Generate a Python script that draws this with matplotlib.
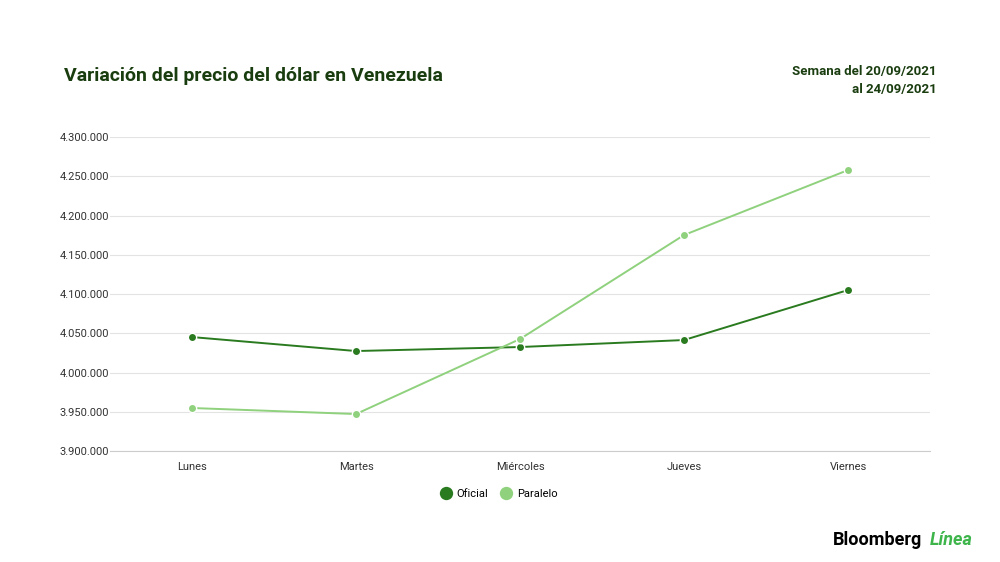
import matplotlib
matplotlib.use("Agg")
import matplotlib.pyplot as plt
from matplotlib.ticker import FuncFormatter

dias = ["Lunes", "Martes", "Miércoles", "Jueves", "Viernes"]
oficial = [4045200, 4027400, 4032500, 4041400, 4105100]
paralelo = [3954800, 3947100, 4042700, 4175200, 4258000]
yticks = [3900000, 3950000, 4000000, 4050000, 4100000, 4150000, 4200000, 4250000, 4300000]

plt.rcParams['font.family'] = ['Roboto', 'DejaVu Sans']
fig = plt.figure(figsize=(10, 5.62), dpi=100)
ax = fig.add_axes([0.11, 0.1975, 0.82, 0.5585])
x = range(len(dias))
c1, c2 = "#2a7a1f", "#8fd17d"
ax.plot(x, oficial, color=c1, lw=1.4, marker="o", ms=6, mec="white", mew=1, label="Oficial", zorder=3)
ax.plot(x, paralelo, color=c2, lw=1.4, marker="o", ms=6, mec="white", mew=1, label="Paralelo", zorder=3)
ax.set_xlim(-0.5, 4.5)
ax.set_ylim(3900000, 4300000)
ax.set_yticks(yticks)
ax.yaxis.set_major_formatter(FuncFormatter(lambda v, p: f"{int(v):,}".replace(",", ".")))
ax.set_xticks(list(x))
ax.set_xticklabels(dias)
ax.grid(axis="y", color="#e3e3e3", lw=0.8)
for s in ["top", "right", "left"]:
    ax.spines[s].set_visible(False)
ax.spines["bottom"].set_color("#cccccc")
ax.tick_params(axis="both", length=0, labelsize=8, colors="#333333")
ax.tick_params(axis="x", pad=8)
ax.tick_params(axis="y", pad=2)
for t in ax.get_yticklabels():
    t.set_horizontalalignment("left")
    t.set_x(-0.058)
leg = ax.legend(loc="upper center", bbox_to_anchor=(0.475, -0.09), ncol=2, frameon=False,
                fontsize=8, handlelength=0.8, markerscale=1.6, columnspacing=1.2, handletextpad=0.6)
for h in leg.legend_handles:
    h.set_linestyle("none")
    h.set_markeredgewidth(0)
fig.text(0.064, 0.865, "Variación del precio del dólar en Venezuela", fontsize=14, fontweight="bold", color="#1a3d10", va="center")
fig.text(0.937, 0.872, "Semana del 20/09/2021", fontsize=9.5, fontweight="bold", color="#1a3d10", ha="right", va="center")
fig.text(0.937, 0.84, "al 24/09/2021", fontsize=9.5, fontweight="bold", color="#1a3d10", ha="right", va="center")
fig.text(0.833, 0.04, "Bloomberg", fontsize=13, fontweight="bold", color="black", va="center")
fig.text(0.93, 0.04, "Línea", fontsize=13, fontweight="bold", style="italic", color="#3db54a", va="center")
fig.savefig("out.png", dpi=100, facecolor="white")
